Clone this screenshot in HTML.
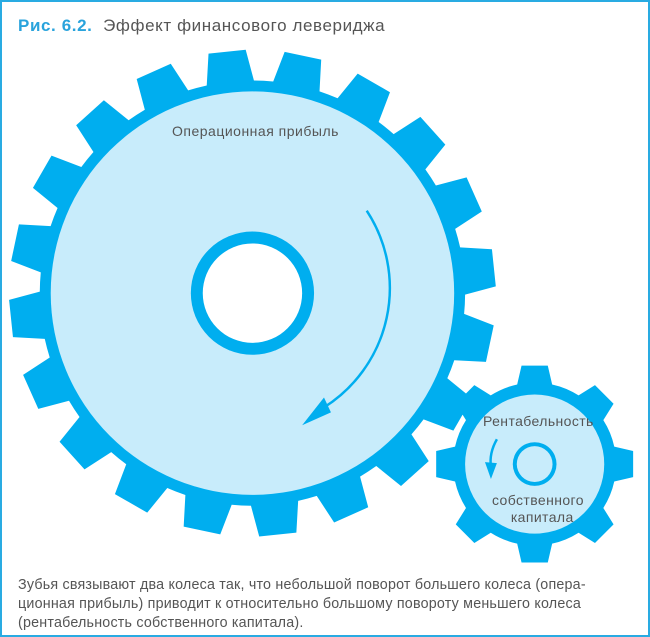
<!DOCTYPE html>
<html><head><meta charset="utf-8"><style>
html,body{margin:0;padding:0;background:#fff}
#w{position:relative;width:646px;height:633px;border:2px solid #29abe2;overflow:hidden}
.t{position:absolute;font-family:"Liberation Sans",sans-serif;color:#555;white-space:nowrap}
</style></head><body>
<div id="w">
<svg id="s" width="646" height="633" style="position:absolute;left:-2px;top:-2px" viewBox="0 0 650 637">
<g id="g"></g>
</svg>
<div class="t" style="left:16px;top:14px;font-size:17px;letter-spacing:0.6px"><b style="color:#29a3dc">Рис. 6.2.</b>&nbsp; Эффект финансового левериджа</div>
<div class="t" style="left:170px;top:121px;font-size:14px;letter-spacing:0.5px">Операционная прибыль</div>
<div class="t" style="left:481px;top:411px;font-size:14px;letter-spacing:0.4px">Рентабельность</div>
<div class="t" style="left:490px;top:490px;font-size:14px;text-align:center;line-height:17px;letter-spacing:0.4px">собственного<br>&nbsp;&nbsp;капитала</div>
<div class="t" style="left:16px;top:574px;font-size:14.3px;line-height:19px;letter-spacing:0.2px">Зубья связывают два колеса так, что небольшой поворот большего колеса (опера-<br>ционная прибыль) приводит к относительно большому повороту меньшего колеса<br>(рентабельность собственного капитала).</div>
</div>
<script>
function gear(cx,cy,rb,rt,n,off,hb,ht){
 var d='',r=Math.PI/180;
 for(var i=0;i<n;i++){
  var a=off+i*360/n;
  var pts=[[rb,a-hb],[rt,a-ht],[rt,a+ht],[rb,a+hb]];
  pts.forEach(function(p,j){
   var x=cx+p[0]*Math.sin(p[1]*r),y=cy-p[0]*Math.cos(p[1]*r);
   d+=(i==0&&j==0?'M':'L')+x.toFixed(1)+' '+y.toFixed(1);
  });
  var na=off+(i+1)*360/n-hb;
  d+='A'+rb+' '+rb+' 0 0 1 '+(cx+rb*Math.sin(na*r)).toFixed(1)+' '+(cy-rb*Math.cos(na*r)).toFixed(1);
 }
 return d+'Z';
}
var h='';
h+='<path fill="#00aeef" d="'+gear(254,295,214,245,20,12,6.4,4.4)+'"/>';
h+='<circle cx="254" cy="295" r="203" fill="#c8ecfb"/>';
h+='<circle cx="254" cy="295" r="62" fill="#00aeef"/><circle cx="254" cy="295" r="50" fill="#fff"/>';
h+='<path fill="#00aeef" d="'+gear(538,467,82,100,8,0,12.4,7.6)+'"/>';
h+='<circle cx="538" cy="467" r="70" fill="#c8ecfb"/>';
h+='<circle cx="538" cy="467" r="22" fill="#00aeef"/><circle cx="538" cy="467" r="18" fill="#c8ecfb"/>';
h+='<path d="M369 212 A142 142 0 0 1 326 410" fill="none" stroke="#00aeef" stroke-width="2.5"/>';
h+='<path d="M304 428 L326 400 L333 415 Z" fill="#00aeef"/>';
h+='<path d="M500 442 Q492 456 494 470" fill="none" stroke="#00aeef" stroke-width="2.5"/>';
h+='<path d="M494 482 L488 465 L500 466 Z" fill="#00aeef"/>';
document.getElementById('g').innerHTML=h;
</script>
</body></html>
